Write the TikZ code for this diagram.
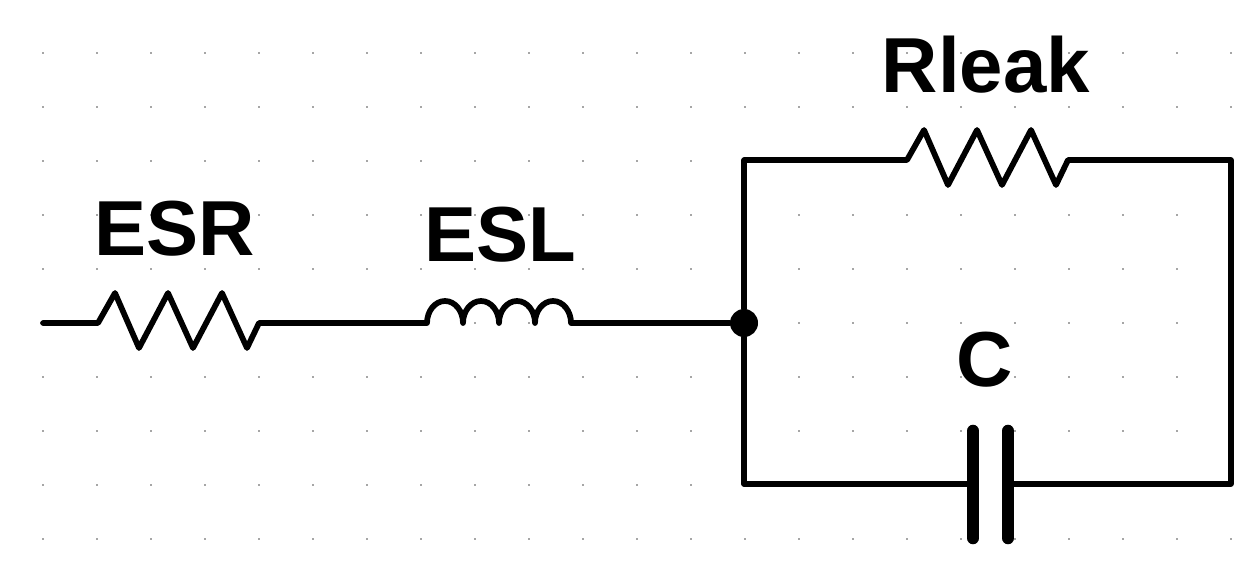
\documentclass[tikz,border=0pt]{standalone}
\usepackage{fontspec}
\setmainfont{Liberation Sans}
\newcommand{\rzig}{-- ++(17,-30) -- ++(24,55) -- ++(29,-55) -- ++(25,55) -- ++(29,-55) -- ++(25,55) -- ++(12,-25)}
\begin{document}
\begin{tikzpicture}[x=0.75pt,y=-0.75pt,
	griddot/.style={fill=black!35},
	wire/.style={draw,line width=4.3pt,line join=round,line cap=round},
	plate/.style={draw,line width=9.4pt,line cap=round},
	main node/.style={inner sep=0pt,anchor=base,font=\fontsize{58.5pt}{60pt}\selectfont\bfseries},
	junction/.style={circle,fill=black,inner sep=0pt,minimum size=21pt}]

	\useasboundingbox (0,0) rectangle (1237,563);

	% grid
	\foreach \x in {0,...,22}
		\foreach \y in {0,...,9}
			\fill[griddot] ({42.3+54*\x},{52.3+54*\y}) rectangle ++(1.6,1.6);

	\coordinate (in) at (43,323);
	\coordinate (esrL) at (98,323);
	\coordinate (esrR) at (260,323);
	\coordinate (eslL) at (425,323);
	\coordinate (eslR) at (581,323);
	\node[junction] (j) at (744,323) {};
	\coordinate (topL) at (744,160);
	\coordinate (rleakL) at (907,160);
	\coordinate (rleakR) at (1069,160);
	\coordinate (topR) at (1231,160);
	\coordinate (botR) at (1231,484);
	\coordinate (botL) at (744,484);
	\coordinate (capL) at (973,484);
	\coordinate (capR) at (1008,484);

	\node[main node] (esr) at (175,255) {ESR};
	\node[main node] (esl) at (500,261) {ESL};
	\node[main node] (rleak) at (986,93) {Rleak};
	\node[main node] (c) at (985,386) {C};

	% series branch
	\path[wire] (in) -- (esrL) \rzig -- (eslL)
		-- ++(2,0) arc[start angle=180,end angle=0,x radius=13.5pt,y radius=16.5pt]
		arc[start angle=180,end angle=0,x radius=13.5pt,y radius=16.5pt]
		arc[start angle=180,end angle=0,x radius=13.5pt,y radius=16.5pt]
		arc[start angle=180,end angle=0,x radius=13.5pt,y radius=16.5pt]
		-- (eslR) -- (j);

	% parallel branches
	\path[wire] (j) -- (topL) -- (rleakL) \rzig -- (topR) -- (botR) -- (capR);
	\path[wire] (j) -- (botL) -- (capL);
	\path[plate] (973,431) -- (capL) -- (973,538);
	\path[plate] (1008,431) -- (capR) -- (1008,538);

\end{tikzpicture}
\end{document}
